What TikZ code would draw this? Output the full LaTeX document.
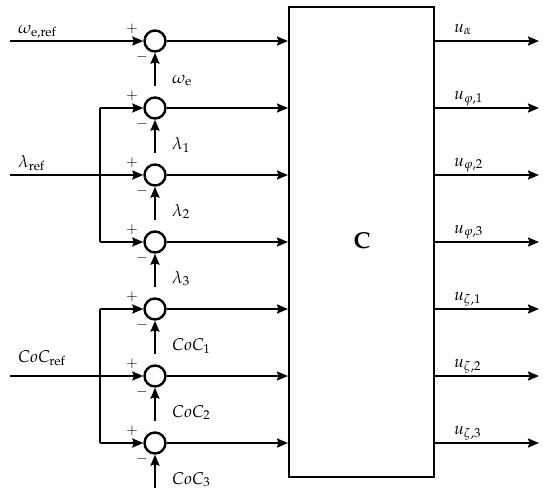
\documentclass[tikz,border=0pt]{standalone}
\usepackage[T1]{fontenc}
\usepackage{mathpazo}
\usetikzlibrary{arrows.meta}
\begin{document}
\begin{tikzpicture}[x=1pt,y=-1pt,
  wire/.style={line width=2pt},
  arr/.style={wire,-{Stealth[length=11pt,width=9pt,inset=1.5pt]}},
  sumc/.style={circle,draw,line width=2.4pt,minimum size=21pt,inner sep=0pt},
  lbl/.style={font=\fontsize{17}{20}\selectfont,inner sep=0pt},
  sgn/.style={font=\fontsize{14}{16}\selectfont,inner sep=0pt},
  bigc/.style={font=\fontsize{23}{28}\selectfont\bfseries,inner sep=0pt}]
\useasboundingbox (0,0) rectangle (550,496);
\node[draw,line width=2pt,minimum width=145pt,minimum height=470pt,inner sep=0pt] (C) at (361.5,242) {};
\node[bigc] (Cl) at (362,241) {C};
\foreach \i/\y in {1/41,2/108,3/175,4/242,5/309,6/376,7/443}{
  \node[sumc] (s\i) at (155,\y) {};
  \coordinate (f\i) at (155,\y+45);
  \coordinate (e\i) at (C.west |- s\i);
  \coordinate (o\i) at (C.east |- s\i);
  \coordinate (t\i) at (539,\y);
  \draw[arr] (s\i.east) -- (e\i);
  \draw[arr] (o\i) -- (t\i);
  \draw[arr] (f\i) -- (s\i.south);
  \node[sgn] (p\i) at (132,\y-12) {$+$};
  \node[sgn] (m\i) at (142,\y+16) {$-$};
}
% inputs
\coordinate (in1) at (10,41);
\coordinate (in3) at (10,175);
\coordinate (in6) at (10,376);
\coordinate (b2) at (100,108);
\coordinate (b4) at (100,242);
\coordinate (b5) at (100,309);
\coordinate (b7) at (100,443);
\draw[arr] (in1) -- (s1.west);
\draw[arr] (in3) -- (s3.west);
\draw[arr] (in6) -- (s6.west);
\draw[wire] (b2) -- (b4);
\draw[wire] (b5) -- (b7);
\draw[arr] (b2) -- (s2.west);
\draw[arr] (b4) -- (s4.west);
\draw[arr] (b5) -- (s5.west);
\draw[arr] (b7) -- (s7.west);
% input labels
\node[lbl,anchor=base west] (l1) at (18,33) {$\omega_{\mathrm{e,ref}}$};
\node[lbl,anchor=base west] (l3) at (18,167) {$\lambda_{\mathrm{ref}}$};
\node[lbl,anchor=base west] (l6) at (18,362) {$CoC_{\mathrm{ref}}$};
% feedback labels
\node[lbl,anchor=base west] (fl1) at (172,83) {$\omega_{\mathrm{e}}$};
\node[lbl,anchor=base west] (fl2) at (172,149) {$\lambda_1$};
\node[lbl,anchor=base west] (fl3) at (172,216) {$\lambda_2$};
\node[lbl,anchor=base west] (fl4) at (172,283) {$\lambda_3$};
\node[lbl,anchor=base west] (fl5) at (172,350) {$CoC_1$};
\node[lbl,anchor=base west] (fl6) at (172,417) {$CoC_2$};
\node[lbl,anchor=base west] (fl7) at (172,484) {$CoC_3$};
% output labels
\node[lbl,anchor=base west] (u1) at (454,32) {$u_{\alpha}$};
\node[lbl,anchor=base west] (u2) at (454,99) {$u_{\varphi,1}$};
\node[lbl,anchor=base west] (u3) at (454,166) {$u_{\varphi,2}$};
\node[lbl,anchor=base west] (u4) at (454,233) {$u_{\varphi,3}$};
\node[lbl,anchor=base west] (u5) at (454,300) {$u_{\zeta,1}$};
\node[lbl,anchor=base west] (u6) at (454,367) {$u_{\zeta,2}$};
\node[lbl,anchor=base west] (u7) at (454,434) {$u_{\zeta,3}$};
\end{tikzpicture}
\end{document}
